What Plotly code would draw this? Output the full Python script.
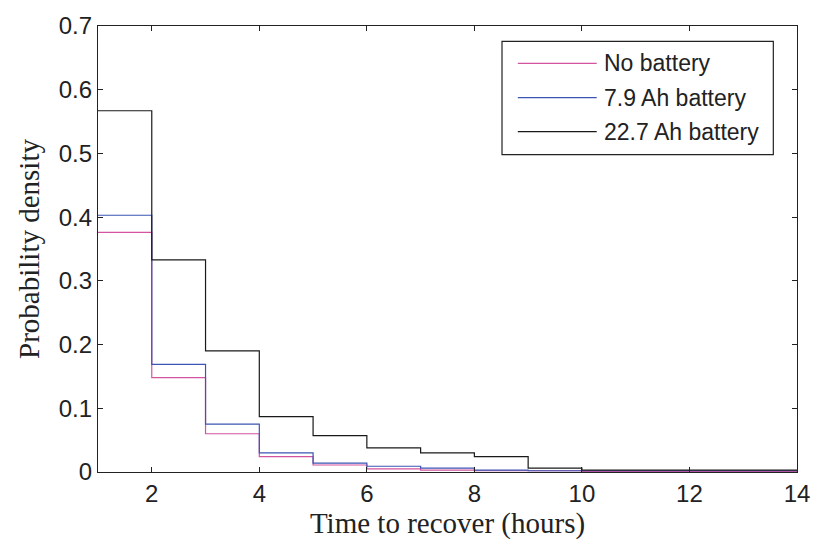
import plotly.graph_objects as go

# Bin edges (hours) and probability density per 1-hour bin
edges = list(range(1, 15))
no_battery = [0.376, 0.148, 0.060, 0.024, 0.011, 0.005, 0.003, 0.002, 0.002, 0.001, 0.001, 0.001, 0.001]
battery_7_9 = [0.403, 0.169, 0.075, 0.030, 0.014, 0.009, 0.006, 0.003, 0.002, 0.002, 0.002, 0.002, 0.002]
battery_22_7 = [0.567, 0.333, 0.190, 0.087, 0.057, 0.038, 0.030, 0.024, 0.006, 0.003, 0.003, 0.003, 0.003]

names = ["No battery", "7.9 Ah battery", "22.7 Ah battery"]
colors = ["#d4549f", "#3a55b4", "#1a1a1a"]
series = [no_battery, battery_7_9, battery_22_7]

x_ticks = [2, 4, 6, 8, 10, 12, 14]
y_ticks = [0, 0.1, 0.2, 0.3, 0.4, 0.5, 0.6, 0.7]
y_labels = ["0", "0.1", "0.2", "0.3", "0.4", "0.5", "0.6", "0.7"]

fig = go.Figure()
for name, col, vals in zip(names, colors, series):
    fig.add_trace(go.Scatter(
        x=edges, y=vals + [vals[-1]], mode="lines", name=name,
        line=dict(color=col, width=1.2, shape="hv"), showlegend=False,
    ))

# Box-style legend drawn in paper coordinates
L, R, T, B = 97.5, 806, 19.3, 472.5
W, H = R - L, B - T
px = lambda v: (v - L) / W
py = lambda v: (B - v) / H
shapes = [dict(type="rect", xref="paper", yref="paper",
               x0=px(507), x1=px(782), y0=py(35), y1=py(150),
               line=dict(color="#222", width=1.2), fillcolor="white", layer="above")]
annotations = []
for i, (name, col) in enumerate(zip(names, colors)):
    yy = 57.3 + 34.7 * i
    shapes.append(dict(type="line", xref="paper", yref="paper",
                       x0=px(523), x1=px(603), y0=py(yy), y1=py(yy),
                       line=dict(color=col, width=1.2), layer="above"))
    annotations.append(dict(xref="paper", yref="paper", x=px(608), y=py(yy),
                            xanchor="left", yanchor="middle", showarrow=False,
                            text=name, font=dict(family="Liberation Sans", size=23, color="#222")))

fig.update_layout(
    width=822, height=550,
    margin=dict(l=L, r=822 - R, t=T, b=550 - B),
    paper_bgcolor="white", plot_bgcolor="white",
    shapes=shapes, annotations=annotations,
    xaxis=dict(range=[1, 14], tickvals=x_ticks, ticks="inside", ticklen=5,
               showline=True, mirror="ticks", linecolor="#222", linewidth=1.2,
               tickcolor="#222", showgrid=False, zeroline=False,
               tickfont=dict(family="Liberation Sans", size=24, color="#222"),
               title=dict(text="Time to recover (hours)", standoff=6,
                          font=dict(family="Liberation Serif", size=29, color="#222"))),
    yaxis=dict(range=[0, 0.7], tickvals=y_ticks, ticktext=y_labels, ticks="inside", ticklen=5,
               showline=True, mirror="ticks", linecolor="#222", linewidth=1.2,
               tickcolor="#222", showgrid=False, zeroline=False,
               tickfont=dict(family="Liberation Sans", size=24, color="#222"),
               title=dict(text="Probability density", standoff=10,
                          font=dict(family="Liberation Serif", size=29, color="#222"))),
)

fig.write_html("out.html")
